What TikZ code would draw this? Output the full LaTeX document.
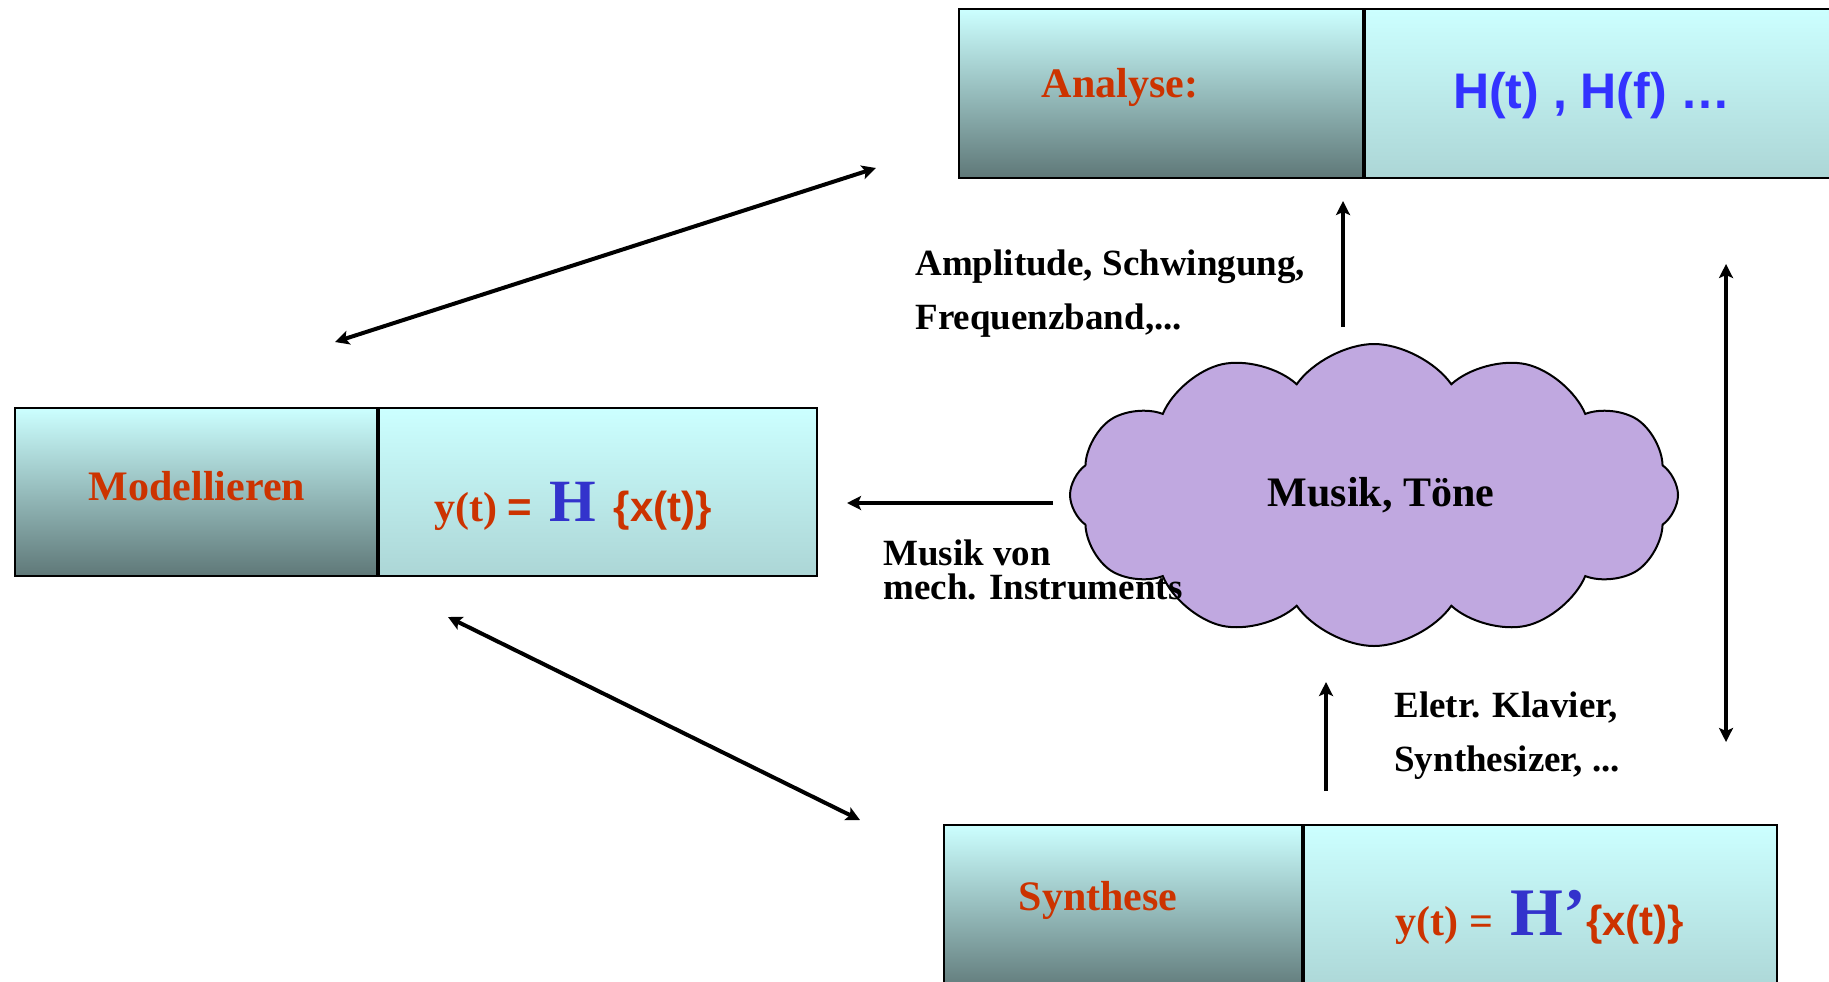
\documentclass[tikz,border=0pt]{standalone}
\usepackage{fontspec}
\setmainfont{Liberation Serif}
\setsansfont{Liberation Sans}
\usetikzlibrary{shapes.symbols,arrows.meta}

\definecolor{rot}{RGB}{204,51,0}
\definecolor{blau}{RGB}{51,51,255}
\definecolor{hblau}{RGB}{51,51,204}
\definecolor{hell}{RGB}{204,255,255}
\definecolor{dunkel}{RGB}{95,120,120}
\definecolor{mittel}{RGB}{172,214,214}
\definecolor{lila}{RGB}{192,168,224}

\tikzset{zelleL/.style = {draw, line width=1pt, rectangle, anchor=north west, inner sep=0pt,
                          top color=hell, bottom color=dunkel},
         zelleR/.style = {draw, line width=1pt, rectangle, anchor=north west, inner sep=0pt,
                          top color=hell, bottom color=mittel},
         titel/.style  = {text=rot, font=\fontsize{21}{25}\selectfont\bfseries},
         formel/.style = {anchor=base, text=rot, font=\fontsize{21}{25}\selectfont\bfseries},
         notiz/.style  = {inner sep=0pt, anchor=north west, align=left,
                          font=\fontsize{18.5}{27}\selectfont\bfseries},
         pfeil/.style  = {line width=2pt, -{Stealth[length=7pt,width=7pt,inset=1.5pt]}},
         doppel/.style = {line width=2pt, {Stealth[length=7pt,width=7pt,inset=1.5pt]}-{Stealth[length=7pt,width=7pt,inset=1.5pt]}},
         wolke/.style  = {cloud, cloud puffs=12, cloud puff arc=110, draw, line width=1pt, fill=lila,
                          minimum width=304pt, minimum height=151pt, aspect=2,
                          font=\fontsize{21}{25}\selectfont\bfseries}
        }

\begin{document}
\begin{tikzpicture}[x=0.5pt, y=-0.5pt]
  \useasboundingbox[fill=white] (0,0) rectangle (1829,981);

  \node[zelleL, minimum width=202pt, minimum height=84.5pt] (anaL) at (958,8) {};
  \node[zelleR, minimum width=240pt, minimum height=84.5pt] (anaR) at (anaL.north east) {};
  \node[titel] (anaT) at (1120,87) {Analyse:};
  \node[text=blau, font=\fontsize{25}{30}\selectfont\sffamily\bfseries] (anaF) at (1592,96) {H(t) , H(f) …};

  \node[zelleL, minimum width=181pt, minimum height=84pt] (modL) at (14,407) {};
  \node[zelleR, minimum width=219pt, minimum height=84pt] (modR) at (modL.north east) {};
  \node[titel] (modT) at (197,486) {Modellieren};
  \node[formel] (modF) at (573,521) {y(t) {\sffamily=}\, {\fontsize{30}{30}\selectfont\color{hblau}H}\ \,{\sffamily\{x(t)\}}};

  \node[zelleL, minimum width=179pt, minimum height=84pt] (synL) at (943,824) {};
  \node[zelleR, minimum width=236.5pt, minimum height=84pt] (synR) at (synL.north east) {};
  \node[titel] (synT) at (1098,900) {Synthese};
  \node[formel] (synF) at (1540,935) {y(t) =\, {\fontsize{34}{34}\selectfont\color{hblau}H’}{\sffamily\{x(t)\}}};

  \node[wolke] (musik) at (1374,495) {\hspace*{7pt}Musik, Töne};

  \node[notiz] (ampl) at (915,249) {Amplitude, Schwingung,\\Frequenzband,...};
  \node[notiz, font=\fontsize{18.5}{17}\selectfont\bfseries] (mech) at (883,539) {Musik von\\mech. Instruments};
  \node[notiz] (klav) at (1394,691) {Eletr. Klavier,\\Synthesizer, ...};

  \coordinate (modOben) at (335,342);
  \coordinate (anaLinks) at (876,168);
  \coordinate (modUnten) at (448,617);
  \coordinate (synLinks) at (860,820);
  \coordinate (musikLinks) at (1053,503);
  \coordinate (modRechts) at (847,503);
  \coordinate (musikOben) at (1343,327);
  \coordinate (anaUnten) at (1343,201);
  \coordinate (synOben) at (1326,791);
  \coordinate (musikUnten) at (1326,682);
  \coordinate (anaRechts) at (1726,264);
  \coordinate (synRechts) at (1726,742);

  \draw[doppel] (modOben) -- (anaLinks);
  \draw[doppel] (modUnten) -- (synLinks);
  \draw[pfeil] (musikLinks) -- (modRechts);
  \draw[pfeil] (musikOben) -- (anaUnten);
  \draw[pfeil] (synOben) -- (musikUnten);
  \draw[doppel] (anaRechts) -- (synRechts);
\end{tikzpicture}
\end{document}
